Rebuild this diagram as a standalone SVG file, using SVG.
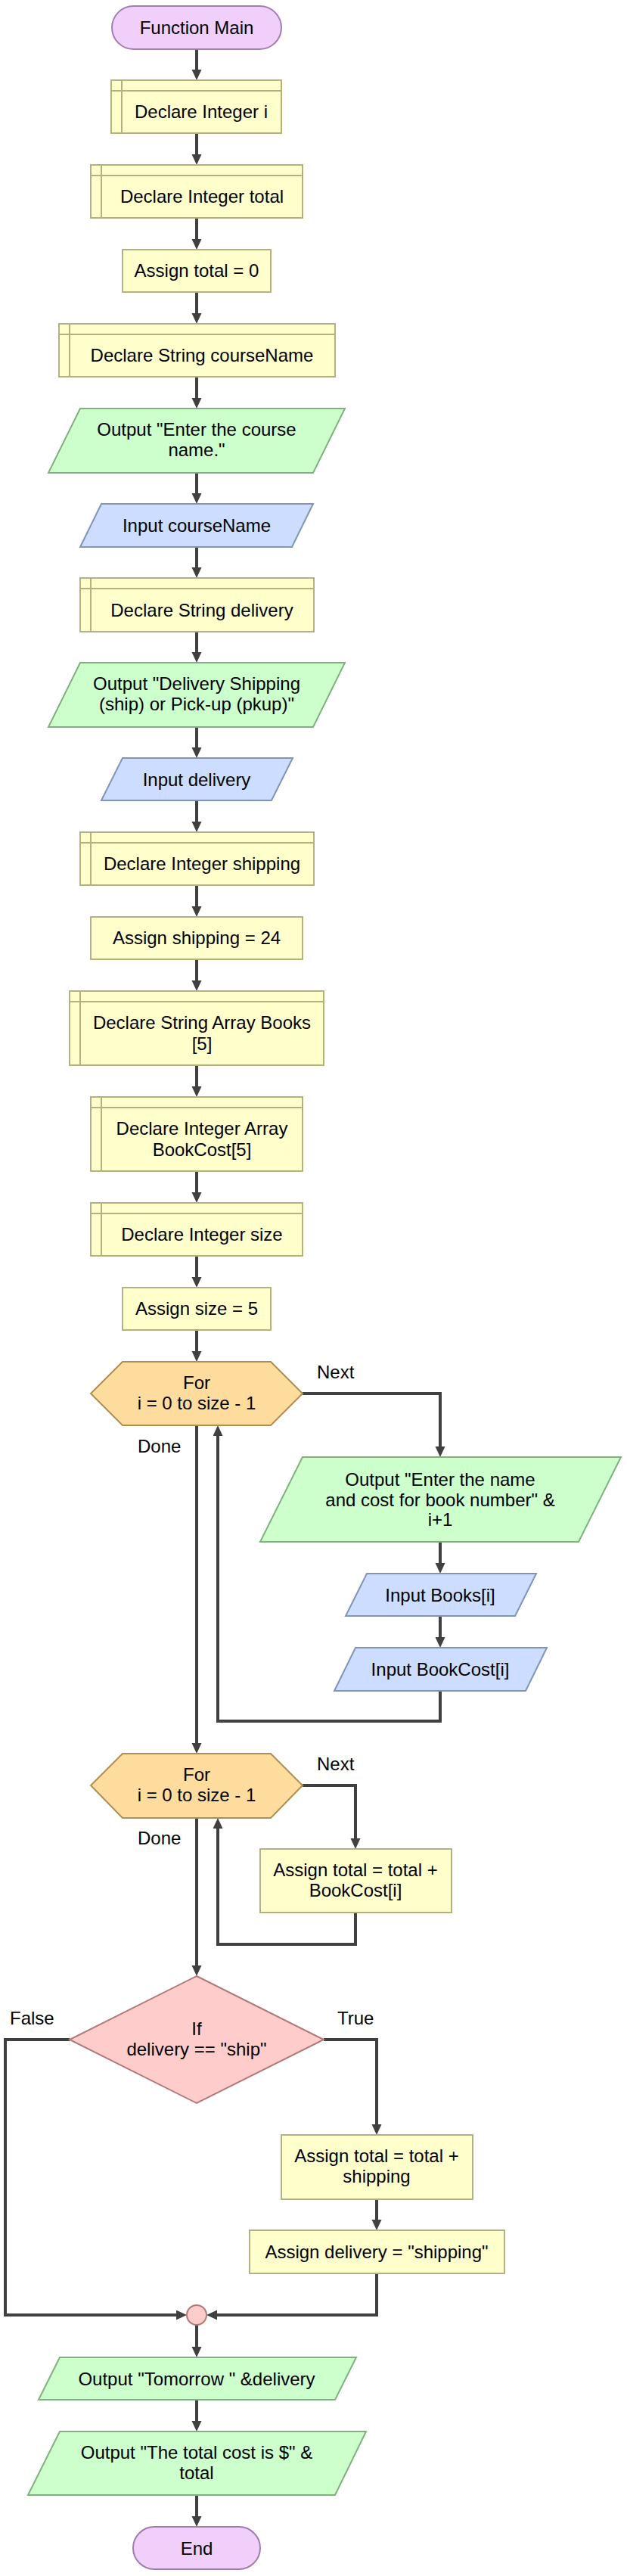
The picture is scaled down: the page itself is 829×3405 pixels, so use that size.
<svg xmlns="http://www.w3.org/2000/svg" width="829" height="3405" viewBox="0 0 829 3405">
<defs>
<style>
text{font-family:"Liberation Sans",Arial,sans-serif;font-size:24px;fill:#000;text-anchor:middle}
.lbl{text-anchor:start}
.term{fill:#F0D0FA;stroke:#A27DB0;stroke-width:2}
.proc{fill:#FFFFCC;stroke:#B2B27F;stroke-width:2}
.out{fill:#CCFFCC;stroke:#80B080;stroke-width:2}
.inp{fill:#CCDDFF;stroke:#8094B8;stroke-width:2}
.loop{fill:#FDDC9E;stroke:#B08E50;stroke-width:2}
.cond{fill:#FFCCCC;stroke:#B07A7A;stroke-width:2}
.inner{fill:none;stroke:#B2B27F;stroke-width:2}
.conn{fill:none;stroke:#404040;stroke-width:4;marker-end:url(#ah)}
</style>
<marker id="ah" markerUnits="userSpaceOnUse" markerWidth="15" markerHeight="14" refX="4" refY="6.5" orient="auto">
<path d="M0,0 L14,6.5 L0,13 z" fill="#404040"/>
</marker>
</defs>

<g id="connectors">
<path class="conn" d="M260,65 V96"/>
<path class="conn" d="M260,176 V208"/>
<path class="conn" d="M260,288 V320"/>
<path class="conn" d="M260,386 V418"/>
<path class="conn" d="M260,498 V530"/>
<path class="conn" d="M260,625 V656"/>
<path class="conn" d="M260,723 V754"/>
<path class="conn" d="M260,835 V866"/>
<path class="conn" d="M260,961 V992"/>
<path class="conn" d="M260,1058 V1090"/>
<path class="conn" d="M260,1170 V1202"/>
<path class="conn" d="M260,1268 V1300"/>
<path class="conn" d="M260,1408 V1440"/>
<path class="conn" d="M260,1548 V1580"/>
<path class="conn" d="M260,1660 V1692"/>
<path class="conn" d="M260,1758 V1790"/>
<path class="conn" d="M400,1842 H582 V1916"/>
<path class="conn" d="M582,2038 V2070"/>
<path class="conn" d="M582,2136 V2168"/>
<path class="conn" d="M582,2235 V2275 H288 V1894"/>
<path class="conn" d="M260,1884 V2308"/>
<path class="conn" d="M400,2360 H470 V2434"/>
<path class="conn" d="M470,2528 V2570 H288 V2413"/>
<path class="conn" d="M260,2403 V2602"/>
<path class="conn" d="M92,2696 H7 V3060 H237"/>
<path class="conn" d="M428,2696 H498 V2812"/>
<path class="conn" d="M498,2907 V2938"/>
<path class="conn" d="M498,3005 V3060 H283"/>
<path class="conn" d="M260,3073 V3106"/>
<path class="conn" d="M260,3172 V3204"/>
<path class="conn" d="M260,3298 V3330"/>
<text class="lbl" x="419" y="1822">Next</text>
<text class="lbl" x="182" y="1920">Done</text>
<text class="lbl" x="419" y="2340">Next</text>
<text class="lbl" x="182" y="2438">Done</text>
<text class="lbl" x="13" y="2676">False</text>
<text class="lbl" x="446" y="2676">True</text>
</g>

<g id="start">
<rect class="term" x="148" y="8" width="224" height="57" rx="28.5"/>
<text x="260" y="45">Function Main</text>
</g>

<g id="decl-i">
<rect class="proc" x="147" y="106" width="225" height="70"/>
<path class="inner" d="M161,106 V176 M147,120 H372"/>
<text x="266" y="156">Declare Integer i</text>
</g>

<g id="decl-total">
<rect class="proc" x="120" y="218" width="280" height="70"/>
<path class="inner" d="M134,218 V288 M120,232 H400"/>
<text x="267" y="268">Declare Integer total</text>
</g>

<g id="assign-total">
<rect class="proc" x="162" y="330" width="196" height="56"/>
<text x="260" y="366">Assign total = 0</text>
</g>

<g id="decl-coursename">
<rect class="proc" x="78" y="428" width="365" height="70"/>
<path class="inner" d="M92,428 V498 M78,442 H443"/>
<text x="267" y="478">Declare String courseName</text>
</g>

<g id="out-course">
<polygon class="out" points="106,540 456,540 414,625 64,625"/>
<text x="260" y="576">Output "Enter the course</text>
<text x="260" y="603">name."</text>
</g>

<g id="in-coursename">
<polygon class="inp" points="134,666 414,666 386,723 106,723"/>
<text x="260" y="703">Input courseName</text>
</g>

<g id="decl-delivery">
<rect class="proc" x="106" y="764" width="309" height="71"/>
<path class="inner" d="M120,764 V835 M106,778 H415"/>
<text x="267" y="815">Declare String delivery</text>
</g>

<g id="out-delivery">
<polygon class="out" points="106,876 456,876 414,961 64,961"/>
<text x="260" y="912">Output "Delivery Shipping</text>
<text x="260" y="939">(ship) or Pick-up (pkup)"</text>
</g>

<g id="in-delivery">
<polygon class="inp" points="162,1002 387,1002 359,1058 134,1058"/>
<text x="260" y="1039">Input delivery</text>
</g>

<g id="decl-shipping">
<rect class="proc" x="106" y="1100" width="309" height="70"/>
<path class="inner" d="M120,1100 V1170 M106,1114 H415"/>
<text x="267" y="1150">Declare Integer shipping</text>
</g>

<g id="assign-shipping">
<rect class="proc" x="120" y="1212" width="280" height="56"/>
<text x="260" y="1248">Assign shipping = 24</text>
</g>

<g id="decl-books">
<rect class="proc" x="92" y="1310" width="336" height="98"/>
<path class="inner" d="M106,1310 V1408 M92,1324 H428"/>
<text x="267" y="1360">Declare String Array Books</text>
<text x="267" y="1388">[5]</text>
</g>

<g id="decl-bookcost">
<rect class="proc" x="120" y="1450" width="280" height="98"/>
<path class="inner" d="M134,1450 V1548 M120,1464 H400"/>
<text x="267" y="1500">Declare Integer Array</text>
<text x="267" y="1528">BookCost[5]</text>
</g>

<g id="decl-size">
<rect class="proc" x="120" y="1590" width="280" height="70"/>
<path class="inner" d="M134,1590 V1660 M120,1604 H400"/>
<text x="267" y="1640">Declare Integer size</text>
</g>

<g id="assign-size">
<rect class="proc" x="162" y="1702" width="196" height="56"/>
<text x="260" y="1738">Assign size = 5</text>
</g>

<g id="for-1">
<polygon class="loop" points="162,1800 358,1800 400,1842 358,1884 162,1884 120,1842"/>
<text x="260" y="1836">For</text>
<text x="260" y="1863">i = 0 to size - 1</text>
</g>

<g id="out-enter-book">
<polygon class="out" points="400,1926 821,1926 765,2038 344,2038"/>
<text x="582" y="1964">Output "Enter the name</text>
<text x="582" y="1991">and cost for book number" &amp;</text>
<text x="582" y="2017">i+1</text>
</g>

<g id="in-books">
<polygon class="inp" points="485,2080 709,2080 681,2136 457,2136"/>
<text x="582" y="2117">Input Books[i]</text>
</g>

<g id="in-bookcost">
<polygon class="inp" points="470,2178 723,2178 695,2235 442,2235"/>
<text x="582" y="2215">Input BookCost[i]</text>
</g>

<g id="for-2">
<polygon class="loop" points="162,2318 358,2318 400,2360 358,2403 162,2403 120,2360"/>
<text x="260" y="2354">For</text>
<text x="260" y="2381">i = 0 to size - 1</text>
</g>

<g id="assign-sum">
<rect class="proc" x="344" y="2444" width="253" height="84"/>
<text x="470" y="2480">Assign total = total +</text>
<text x="470" y="2507">BookCost[i]</text>
</g>

<g id="if-ship">
<polygon class="cond" points="260,2612 428,2696 260,2780 92,2696"/>
<text x="260" y="2690">If</text>
<text x="260" y="2717">delivery == "ship"</text>
</g>

<g id="assign-total-ship">
<rect class="proc" x="372" y="2822" width="253" height="85"/>
<text x="498" y="2858">Assign total = total +</text>
<text x="498" y="2885">shipping</text>
</g>

<g id="assign-delivery">
<rect class="proc" x="330" y="2948" width="337" height="57"/>
<text x="498" y="2985">Assign delivery = "shipping"</text>
</g>

<g id="merge">
<circle class="cond" cx="260" cy="3060" r="13"/>
</g>

<g id="out-tomorrow">
<polygon class="out" points="79,3116 471,3116 443,3172 51,3172"/>
<text x="260" y="3153">Output "Tomorrow " &amp;delivery</text>
</g>

<g id="out-total">
<polygon class="out" points="79,3214 484,3214 443,3298 37,3298"/>
<text x="260" y="3250">Output "The total cost is $" &amp;</text>
<text x="260" y="3277">total</text>
</g>

<g id="end">
<rect class="term" x="176" y="3340" width="168" height="56" rx="28"/>
<text x="260" y="3377">End</text>
</g>
</svg>
